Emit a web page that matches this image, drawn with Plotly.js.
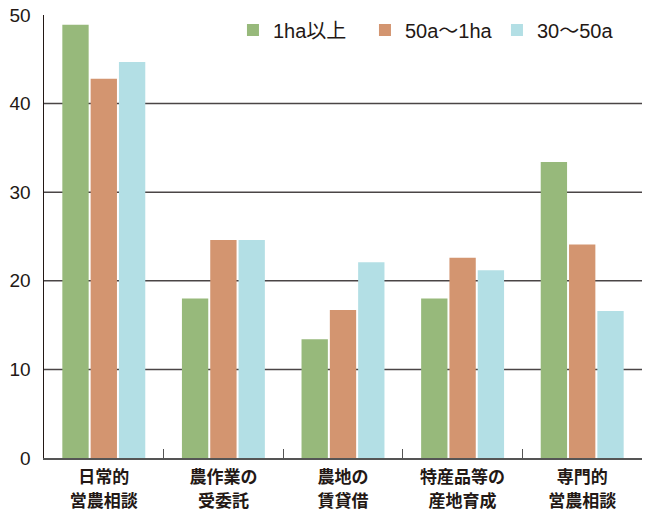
<!DOCTYPE html>
<html>
<head>
<meta charset="utf-8">
<script src="https://cdn.plot.ly/plotly-3.0.1.min.js"></script>
<style>
html,body{margin:0;padding:0;background:#fff;}
#chart{width:648px;height:512px;}
</style>
</head>
<body>
<div id="chart"></div>
<script>
const categoryLines = [["日常的", "営農相談"], ["農作業の", "受委託"], ["農地の", "賃貸借"], ["特産品等の", "産地育成"], ["専門的", "営農相談"]];
const seriesNames = ["1ha以上", "50a～1ha", "30～50a"];
const over1ha = [48.9, 18.0, 13.4, 18.0, 33.4];
const from50aTo1ha = [42.8, 24.6, 16.7, 22.6, 24.1];
const from30To50a = [44.7, 24.6, 22.1, 21.2, 16.6];
const yTicks = [0, 10, 20, 30, 40, 50];
const gridValues = [10, 20, 30, 40];

const categories = categoryLines.map(l => l.join("<br>"));
const categoryText = categoryLines.map(l => l.map(s => '<span style="font-size:17px">' + s + '</span>').join("<br>"));

const colors = ["#97b97b", "#d39570", "#b3dfe5"];
const values = [over1ha, from50aTo1ha, from30To50a];
const textColor = "#231815";
const cjkFont = "Noto Sans CJK JP, Noto Sans, sans-serif";
const latinFont = "Liberation Sans, Noto Sans CJK JP, sans-serif";

const traces = values.map((v, i) => ({
  type: "bar",
  name: seriesNames[i],
  x: categories,
  y: v,
  marker: {color: colors[i], line: {width: 0}},
  hoverinfo: "skip"
}));

const shapes = gridValues.map(g => ({
  type: "line", xref: "paper", yref: "y",
  x0: 0, x1: 1, y0: g, y1: g,
  line: {color: "#4a4546", width: 1.5},
  layer: "below"
}));

const layout = {
  width: 648, height: 512,
  margin: {l: 44, r: 6, t: 15, b: 54},
  paper_bgcolor: "#fff", plot_bgcolor: "#fff",
  font: {family: cjkFont, color: textColor},
  barmode: "group",
  bargap: 0.29,
  bargroupgap: 0.07,
  showlegend: true,
  legend: {
    orientation: "h",
    x: 0.316, xanchor: "left",
    y: 0.966, yanchor: "middle",
    bgcolor: "rgba(0,0,0,0)",
    font: {size: 20, color: textColor, family: latinFont},
    traceorder: "normal",
    itemwidth: 30,
    entrywidth: 87,
    entrywidthmode: "pixels"
  },
  xaxis: {
    type: "category",
    tickvals: categories,
    ticktext: categoryText,
    showgrid: false,
    showline: true, linecolor: "#555", linewidth: 1.5,
    ticks: "inside", tickson: "boundaries", ticklen: 9, tickcolor: "#555", tickwidth: 1,
    ticklabelstandoff: 2,
    tickfont: {size: 18, color: textColor, family: cjkFont, weight: "bold"},
    fixedrange: true
  },
  yaxis: {
    range: [0, 50],
    tickvals: yTicks,
    ticktext: yTicks.map(String),
    showgrid: false,
    zeroline: false,
    showline: true, linecolor: "#231815", linewidth: 1.5,
    ticks: "", ticklabelstandoff: 8,
    tickfont: {size: 19, color: textColor, family: latinFont},
    fixedrange: true
  },
  shapes: shapes
};

Plotly.newPlot("chart", traces, layout, {displayModeBar: false, staticPlot: true});
</script>
</body>
</html>
